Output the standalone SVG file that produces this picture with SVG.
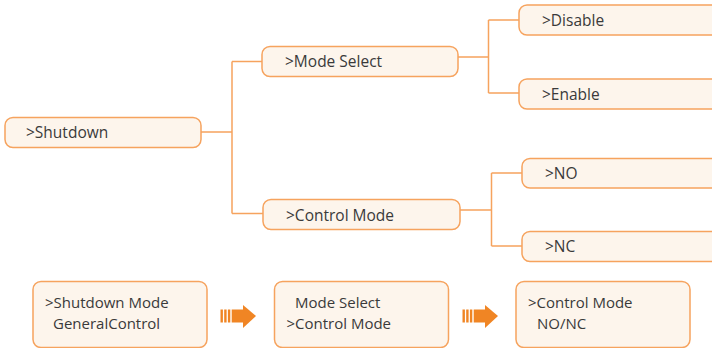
<svg xmlns="http://www.w3.org/2000/svg" width="712" height="348" viewBox="0 0 712 348">
<style>
.box{fill:#FDF5EC;stroke:#F6A35E;stroke-width:1.5}
.ln{fill:none;stroke:#F6A35E;stroke-width:1.5}
text{font-family:"Open Sans","Liberation Sans",sans-serif;font-size:15.5px;fill:#3a3a3a}
text.s{font-size:15px}
.ar{fill:#F08524}
</style>
<defs>
<g id="arrow">
<rect class="ar" x="0" y="12.5" width="2.4" height="13"/>
<rect class="ar" x="3.7" y="12.5" width="2.4" height="13"/>
<rect class="ar" x="7.4" y="12.5" width="2.4" height="13"/>
<rect class="ar" x="11.2" y="12.5" width="12" height="13"/>
<polygon class="ar" points="22.5,8 35.5,19 22.5,31"/>
</g>
</defs>
<g id="connectors">
<path class="ln" d="M201,132 H232 M232,61.5 V213.5 M232,61.5 H262 M232,213.5 H263"/>
<path class="ln" d="M458,57 H488.5 M488.5,20 V93 M488.5,20 H519 M488.5,93 H519"/>
<path class="ln" d="M460,210 H491.5 M491.5,173 V246 M491.5,173 H522 M491.5,246 H522"/>
</g>
<g id="shutdown"><rect class="box" x="5" y="117.5" width="196" height="30" rx="8"/><text x="26" y="138">&gt;Shutdown</text></g>
<g id="mode-select"><rect class="box" x="262" y="46.5" width="196" height="30" rx="8"/><text x="285" y="67">&gt;Mode Select</text></g>
<g id="disable"><rect class="box" x="519" y="5" width="200" height="30" rx="8"/><text x="542" y="25.5">&gt;Disable</text></g>
<g id="enable"><rect class="box" x="519" y="79" width="200" height="30" rx="8"/><text x="542" y="99.5">&gt;Enable</text></g>
<g id="control-mode"><rect class="box" x="263" y="199.5" width="197" height="30" rx="8"/><text x="286" y="220.5">&gt;Control Mode</text></g>
<g id="no"><rect class="box" x="522" y="158.5" width="200" height="29.5" rx="8"/><text x="545" y="179">&gt;NO</text></g>
<g id="nc"><rect class="box" x="522" y="231.5" width="200" height="30" rx="8"/><text x="545" y="252">&gt;NC</text></g>
<g id="screen1"><rect class="box" x="33" y="281.5" width="174" height="66" rx="8"/><text class="s" x="45" y="308.3">&gt;Shutdown Mode</text><text class="s" x="53" y="329">GeneralControl</text></g>
<g id="screen2"><rect class="box" x="274.5" y="281.5" width="174" height="66" rx="8"/><text class="s" x="295" y="308.3">Mode Select</text><text class="s" x="286.5" y="329">&gt;Control Mode</text></g>
<g id="screen3"><rect class="box" x="516" y="281.5" width="174" height="66" rx="8"/><text class="s" x="528" y="308.3">&gt;Control Mode</text><text class="s" x="537" y="329">NO/NC</text></g>
<g id="arrows">
<use href="#arrow" x="220.5" y="297"/>
<use href="#arrow" x="462.5" y="297"/>
</g>
</svg>
